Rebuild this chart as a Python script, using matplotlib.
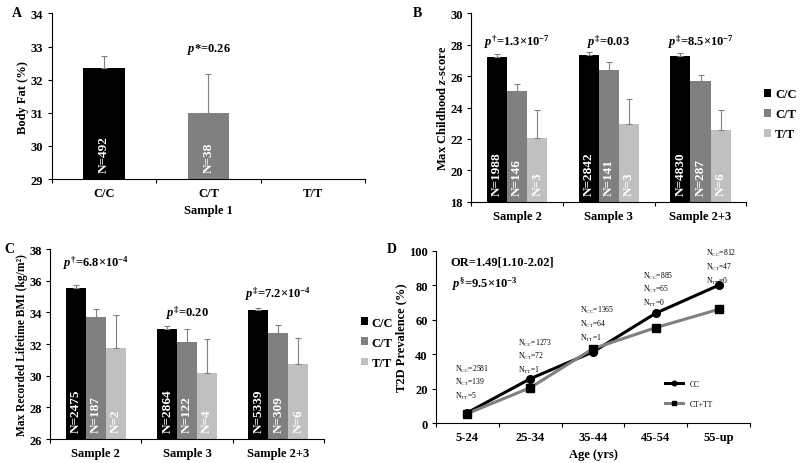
import numpy as np
import matplotlib
matplotlib.use('Agg')
import matplotlib.pyplot as plt

plt.rcParams['font.family'] = ['Liberation Serif', 'DejaVu Serif']
plt.rcParams['font.weight'] = 'bold'
plt.rcParams['axes.labelweight'] = 'bold'
plt.rcParams['mathtext.fontset'] = 'custom'
plt.rcParams['mathtext.rm'] = 'Liberation Serif:bold'
plt.rcParams['mathtext.it'] = 'Liberation Serif:italic:bold'
plt.rcParams['mathtext.bf'] = 'Liberation Serif:bold'

# ---- data ----
genotypes = ['C/C', 'C/T', 'T/T']
colors = ['#000000', '#808080', '#c0c0c0']

# A: body fat, sample 1
a_mean = [32.35, 31.0, np.nan]
a_err = [0.37, 1.17, np.nan]
a_n = [492, 38, None]

# B: max childhood z-score
samples = ['Sample 2', 'Sample 3', 'Sample 2+3']
b_mean = [[27.22, 27.37, 27.30],   # C/C
          [25.05, 26.38, 25.72],   # C/T
          [22.05, 22.95, 22.56]]   # T/T
b_err = [[0.22, 0.16, 0.16],
         [0.42, 0.52, 0.36],
         [1.80, 1.57, 1.28]]
b_n = [[1988, 2842, 4830], [146, 141, 287], [3, 3, 6]]
b_p = [r'$p^\mathregular{\dagger}$=1.3×10$^\mathregular{-7}$',
       r'$p^\mathregular{\ddagger}$=0.03',
       r'$p^\mathregular{\ddagger}$=8.5×10$^\mathregular{-7}$']

# C: max recorded lifetime BMI
c_mean = [[35.52, 32.95, 34.15],
          [33.72, 32.15, 32.72],
          [31.73, 30.15, 30.72]]
c_err = [[0.20, 0.17, 0.12],
         [0.53, 0.78, 0.47],
         [2.10, 2.15, 1.65]]
c_n = [[2475, 2864, 5339], [187, 122, 309], [2, 4, 6]]
c_p = [r'$p^\mathregular{\dagger}$=6.8×10$^\mathregular{-4}$',
       r'$p^\mathregular{\ddagger}$=0.20',
       r'$p^\mathregular{\ddagger}$=7.2×10$^\mathregular{-4}$']

# D: T2D prevalence by age
ages = ['5-24', '25-34', '35-44', '45-54', '55-up']
d_cc = [6.0, 25.7, 41.3, 63.8, 80.0]
d_ctt = [5.5, 20.5, 43.2, 55.4, 66.0]
n_cc = [2581, 1273, 1365, 885, 812]
n_ct = [139, 72, 64, 65, 47]
n_tt = [5, 1, 1, 0, 0]
d_note_y = [32, 47, 66, 86, 99]   # height of top N line

fig = plt.figure(figsize=(8, 4.64), dpi=100)


def style(ax, ncat):
    for s in ['top', 'right']:
        ax.spines[s].set_visible(False)
    ax.set_xlim(-0.5, ncat - 0.5)
    ax.set_xticks(np.arange(ncat))
    ax.set_xticks(np.arange(ncat + 1) - 0.5, minor=True)
    ax.tick_params(axis='x', which='major', length=0, labelsize=9, pad=6)
    ax.tick_params(axis='x', which='minor', length=3, width=0.8)
    ax.tick_params(axis='y', length=3, width=0.8, labelsize=9, pad=3)


def ntext(ax, x, n, y0):
    ax.annotate('N=%d' % n, (x, y0), xytext=(0, 5), textcoords='offset points',
                rotation=90, ha='center', va='bottom', color='white',
                fontsize=9.5, fontweight='bold')


# ---- A ----
axA = fig.add_axes([0.0646, 0.612, 0.392, 0.357])
xa = np.arange(3)
axA.bar(xa, np.array(a_mean) - 29, 0.4, bottom=29, color=colors)
axA.errorbar(xa, a_mean, yerr=[np.zeros(3), a_err], fmt='none', ecolor='#808080',
             elinewidth=0.8, capsize=2.5, capthick=0.8)
for i, n in enumerate(a_n):
    if n is not None:
        ntext(axA, i, n, 29)
axA.set_ylim(29, 34)
axA.set_yticks(np.arange(29, 35, 1))
style(axA, 3)
axA.set_xticklabels(genotypes)
axA.set_xlabel('Sample 1', fontsize=9, labelpad=3)
axA.set_ylabel('Body Fat (%)', fontsize=9, labelpad=1)
axA.text(1, 32.95, r'$p$*=0.26', ha='center', va='center', fontsize=9)

# ---- B and C ----
def grouped(rect, means, errs, ns, pl, p_y, ylim, yticks, ylabel, ylsize, leg_anchor):
    ax = fig.add_axes(rect)
    x = np.arange(3)
    w = 0.22
    handles = []
    for g in range(3):
        xs = x + (g - 1) * w
        h = ax.bar(xs, np.array(means[g]) - ylim[0], w, bottom=ylim[0], color=colors[g])
        handles.append(h)
        ax.errorbar(xs, means[g], yerr=[np.zeros(3), errs[g]], fmt='none',
                    ecolor='#808080', elinewidth=0.8, capsize=2.5, capthick=0.8)
        for i in range(3):
            ntext(ax, xs[i], ns[g][i], ylim[0])
    for i in range(3):
        ax.text(x[i], p_y[i], pl[i], ha='center', va='center', fontsize=9)
    ax.set_ylim(*ylim)
    ax.set_yticks(yticks)
    style(ax, 3)
    ax.set_xticklabels(samples)
    ax.set_ylabel(ylabel, fontsize=ylsize, labelpad=1)
    ax.legend(handles, genotypes, loc='center left', bbox_to_anchor=leg_anchor,
              frameon=False, fontsize=9, handlelength=0.6, handleheight=0.6,
              handletextpad=0.3, labelspacing=0.65, borderaxespad=0)
    return ax


axB = grouped([0.589, 0.563, 0.344, 0.406], b_mean, b_err, b_n, b_p,
              [28.25, 28.25, 28.25], (18, 30), np.arange(18, 31, 2),
              r'Max Childhood $z$-score', 9, (1.045, 0.465))
axC = grouped([0.0625, 0.0517, 0.3425, 0.409], c_mean, c_err, c_n, c_p,
              [37.2, 34.0, 35.2], (26, 38), np.arange(26, 39, 2),
              'Max Recorded Lifetime BMI (kg/m²)', 8.3, (1.115, 0.507))
axC.texts[1].set_x(0.88)

# ---- D ----
axD = fig.add_axes([0.545, 0.0862, 0.3925, 0.371])
xd = np.arange(len(ages))
axD.plot(xd, d_cc, color='black', lw=2.2, marker='o', ms=5.5, label='CC')
axD.plot(xd, d_ctt, color='#808080', lw=2.2, marker='s', ms=6, mfc='black',
         mec='black', label='CT+TT')
for i in range(len(ages)):
    y0 = d_note_y[i]
    x0 = i - 0.2
    axD.text(x0, y0, r'N$_\mathregular{CC}$=%d' % n_cc[i], fontsize=5.5,
             fontweight='normal', va='center')
    axD.text(x0, y0 - 8, r'N$_\mathregular{CT}$=%d' % n_ct[i], fontsize=5.5,
             fontweight='normal', va='center')
    axD.text(x0, y0 - 16, r'N$_\mathregular{TT}$=%d' % n_tt[i], fontsize=5.5,
             fontweight='normal', va='center')
axD.set_ylim(0, 100)
axD.set_yticks(np.arange(0, 101, 20))
style(axD, len(ages))
axD.set_xticklabels(ages)
axD.set_xlabel('Age (yrs)', fontsize=9, labelpad=3)
axD.set_ylabel('T2D Prevalence (%)', fontsize=9, labelpad=1)
axD.text(0.045, 0.94, 'OR=1.49[1.10-2.02]', transform=axD.transAxes,
         fontsize=9, va='center')
axD.text(0.05, 0.81, r'$p^\mathregular{\S}$=9.5×10$^\mathregular{-3}$',
         transform=axD.transAxes, fontsize=9, va='center')
leg = axD.legend(loc='center left', bbox_to_anchor=(0.72, 0.17), frameon=False,
                 fontsize=5.5, handlelength=2.4, markerscale=0.6,
                 labelspacing=1.6, borderaxespad=0)
for t in leg.get_texts():
    t.set_fontweight('normal')

# panel letters
fig.text(0.015, 0.97, 'A', fontsize=10, va='center')
fig.text(0.516, 0.97, 'B', fontsize=10, va='center')
fig.text(0.006, 0.462, 'C', fontsize=10, va='center')
fig.text(0.483, 0.462, 'D', fontsize=10, va='center')

fig.savefig('out.png', dpi=100)
